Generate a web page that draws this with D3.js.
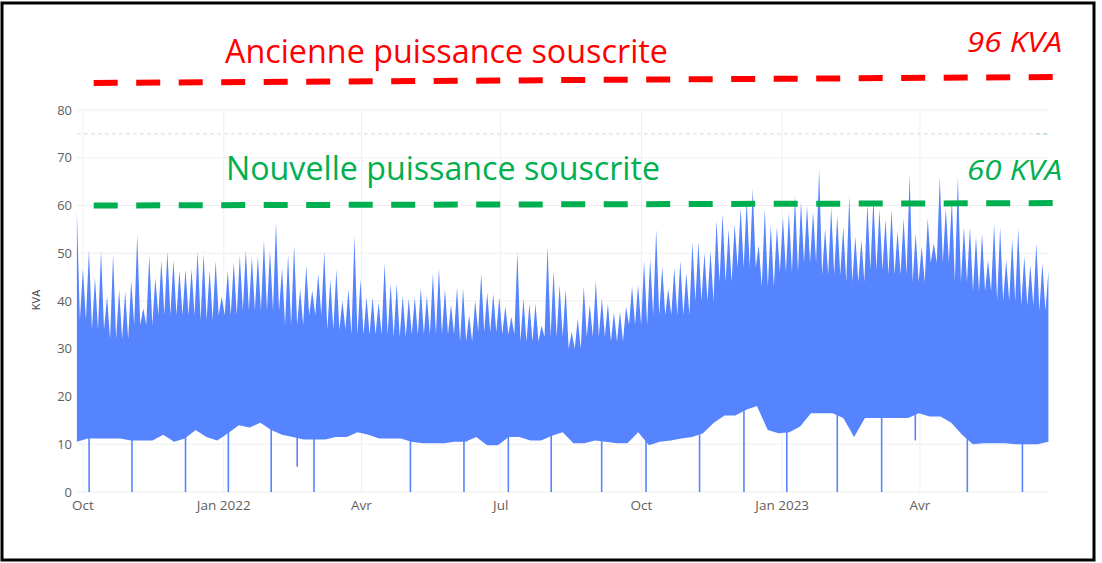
<!DOCTYPE html>
<html>
<head>
<meta charset="utf-8">
<script src="https://cdn.jsdelivr.net/npm/d3@7"></script>
<style>
  body { margin: 0; background: #fff; }
  text { font-family: "Open Sans", "Noto Sans", sans-serif; }
</style>
</head>
<body>
<div id="chart"></div>
<script>
var W = 1102, H = 563;

// period covered by the meter readings
var startDate = new Date(2021, 8, 27);
var endDate = new Date(2023, 5, 24);

// highest reading in each ~4 day slice (KVA)
var peakKva = [
  58.8, 46.7, 50.7, 45, 50.5, 41, 49.8, 42.4, 42, 44.3, 53.9, 38.5, 49.7, 44.8, 48.6, 50.4,
  48.6, 46.4, 46.6, 46.7, 50.4, 49.9, 46.5, 48.3, 40.9, 46.4, 48.1, 49.4, 50.7, 49.2, 49.3, 52.7,
  50.5, 56.5, 46.9, 49.7, 51.6, 42.5, 47.4, 42.2, 45.7, 50.4, 44.5, 46.6, 40.1, 42.5, 53.6, 44.5,
  40.8, 40.8, 39.7, 47.9, 43.6, 43.6, 41.1,
  40.5, 40.8, 42.7, 41.1, 45.8, 46.9, 42.5, 39.2, 42.9, 42.6, 37, 40.1, 45.8, 41.8, 41.5, 40.8,
  38.9, 36.7, 50.3, 40.5, 39.4, 39.4, 34.8, 51.5, 46.4, 43.4, 42.5, 33.5, 36.3, 43.1, 39.2, 44.2,
  40.6, 39.5, 37.6, 37.8, 38.8, 43.1, 43.4, 48.3, 48.8, 55, 47.2, 42.5, 46.9, 48.4, 45.8, 52.3,
  52.3, 50.1, 50.5, 56.9, 58.3,
  55, 56.1, 59.4, 61.1, 63.5, 51.7, 59.2, 55.9, 55.5, 57.6, 58.5, 62, 60.9, 59.9, 58.7, 67.6,
  55.2, 59.6, 57.8, 55.5, 62, 53.5, 52.8, 60.5, 61.5, 59.1, 57, 59.1, 54.6, 57.3, 66.5, 54.2,
  51.4, 57.3, 52.1, 66, 59.4, 61.3, 65.9, 55.5, 55.4, 53.5, 54.2, 48.6, 56.1, 55.4, 48.6, 52.9,
  55.2, 49.3, 47.6, 52.1, 47.9, 46.3
];

// level under which the trace is solid, every two weeks (KVA)
var denseTopKva = [
  36, 34, 32, 35, 37, 37, 36, 37, 38, 38, 35, 37, 34, 33, 33, 32.5,
  33, 33, 31.5, 33.5, 33, 31.5, 32.5, 30, 32.5, 31.5, 35, 37, 37, 40,
  44, 47, 43, 46, 48, 45.5, 44, 46.5, 45.5, 44, 48, 44, 42, 40, 39, 38
];

// lowest reading each week (KVA)
var baseKva = [
  10.5, 11.2, 11.2, 11.2, 11.2, 10.8, 10.8, 10.8, 12, 10.5, 11.2, 13, 11.5, 10.8, 12.3, 14,
  13.5, 14.5, 13, 12, 11.5, 11, 11, 11, 11.5, 11.5, 12.5, 12, 11.2, 11.2, 11.2, 10.5,
  10.2, 10.2, 10.2, 10.5, 10.5, 11.5, 9.8, 9.8, 11.5, 11.5, 10.8, 10.8, 11.8, 12.5, 10.2, 10.2,
  10.8, 10.5, 10.2, 10.2, 12.5, 9.8, 10.5, 10.8, 11.2, 11.5, 12.3, 14.5, 16, 16, 17.2, 18,
  13, 12.3, 12.5, 13.7, 16.5, 16.5, 16.5, 15.5, 11.5, 15.5, 15.5, 15.5, 15.5, 15.5, 16.5, 15.8,
  15.8, 14.5, 12, 10, 10.2, 10.2, 10.2, 10, 10, 10, 10.5
];

// short outages (reading falls to 0)
var outageDates = [
  "2021-10-05", "2021-11-02", "2021-12-07", "2022-01-04", "2022-02-01", "2022-03-01",
  "2022-05-03", "2022-06-07", "2022-07-06", "2022-08-03", "2022-09-05", "2022-10-04",
  "2022-11-08", "2022-12-07", "2023-01-04", "2023-02-06", "2023-03-07", "2023-05-02",
  "2023-06-07"
];
// isolated low readings
var dipDates = ["2022-02-18", "2023-03-29"];
var dipKva = [5.3, 10.8];

// subscribed power lines drawn over the chart
var oldPowerDates = ["2021-10-08", "2023-06-28"];
var oldPowerKva = [85.65, 86.9];
var newPowerDates = ["2021-10-08", "2023-06-28"];
var newPowerKva = [60.0, 60.5];

var yTicks = [0, 10, 20, 30, 40, 50, 60, 70, 80];
var xTickDates = ["2021-10-01", "2022-01-01", "2022-04-01", "2022-07-01", "2022-10-01", "2023-01-01", "2023-04-01"];
var xTickLabels = ["Oct", "Jan 2022", "Avr", "Jul", "Oct", "Jan 2023", "Avr"];

var parse = d3.timeParse("%Y-%m-%d");
var blue = "#5684ff";

var svg = d3.select("#chart").append("svg")
  .attr("width", W)
  .attr("height", H);

var x = d3.scaleTime()
  .domain([new Date(2021, 9, 1), new Date(2023, 0, 1)])
  .range([83, 782.2]);
var y = d3.scaleLinear().domain([0, 80]).range([492, 110]);

var plotLeft = x(startDate), plotRight = x(endDate);

// evenly spaced sampling grid over the recording period
function grid(n) {
  var s = d3.scaleLinear().domain([0, n - 1]).range([startDate.getTime(), endDate.getTime()]);
  return d3.range(n).map(function (i) { return new Date(s(i)); });
}
var peakDates = grid(peakKva.length);
var denseDates = grid(denseTopKva.length);
var baseDates = grid(baseKva.length);
var near = d3.bisector(function (d) { return d; }).center;

// gridlines
svg.append("g").selectAll("line")
  .data(yTicks)
  .enter().append("line")
  .attr("x1", plotLeft).attr("x2", plotRight)
  .attr("y1", function (d) { return y(d); })
  .attr("y2", function (d) { return y(d); })
  .attr("stroke", "#eeeeee");
svg.append("g").selectAll("line")
  .data(xTickDates)
  .enter().append("line")
  .attr("x1", function (d) { return x(parse(d)); })
  .attr("x2", function (d) { return x(parse(d)); })
  .attr("y1", y(80)).attr("y2", y(0))
  .attr("stroke", "#f0f0f0");

// reference line at 75
svg.append("line")
  .attr("x1", plotLeft).attr("x2", plotRight)
  .attr("y1", y(75)).attr("y2", y(75))
  .attr("stroke", "#d9d9d9")
  .attr("stroke-dasharray", "4,3");
svg.append("line")
  .attr("x1", plotRight - 12).attr("x2", plotRight)
  .attr("y1", y(75)).attr("y2", y(75))
  .attr("stroke", "#9ed9c9")
  .attr("stroke-dasharray", "4,3");

// trace: peaks joined through the dense level, closed along the weekly minimum
var topPts = [];
peakDates.forEach(function (d, i) {
  topPts.push([x(d), y(peakKva[i])]);
  if (i < peakDates.length - 1) {
    var mx = (x(d) + x(peakDates[i + 1])) / 2;
    topPts.push([mx, y(denseTopKva[near(denseDates, x.invert(mx))])]);
  }
});
var botPts = baseDates.map(function (d, i) { return [x(d), y(baseKva[i])]; }).reverse();
svg.append("path")
  .attr("d", d3.line()(topPts.concat(botPts)) + "Z")
  .attr("fill", blue);

// outages and low readings
svg.append("g").selectAll("line")
  .data(outageDates)
  .enter().append("line")
  .attr("x1", function (d) { return x(parse(d)); })
  .attr("x2", function (d) { return x(parse(d)); })
  .attr("y1", function (d) { return y(baseKva[near(baseDates, parse(d))] + 1); })
  .attr("y2", y(0))
  .attr("stroke", blue)
  .attr("stroke-width", 1.6);
svg.append("g").selectAll("line")
  .data(dipDates)
  .enter().append("line")
  .attr("x1", function (d) { return x(parse(d)); })
  .attr("x2", function (d) { return x(parse(d)); })
  .attr("y1", function (d) { return y(baseKva[near(baseDates, parse(d))] + 1); })
  .attr("y2", function (d, i) { return y(dipKva[i]); })
  .attr("stroke", blue)
  .attr("stroke-width", 1.6);

// axis labels
svg.append("g").selectAll("text")
  .data(yTicks)
  .enter().append("text")
  .attr("x", 72)
  .attr("y", function (d) { return y(d) + 4.5; })
  .attr("text-anchor", "end")
  .attr("font-size", 13)
  .attr("fill", "#605e5c")
  .text(function (d) { return d; });
svg.append("g").selectAll("text")
  .data(xTickDates)
  .enter().append("text")
  .attr("x", function (d) { return x(parse(d)); })
  .attr("y", 510)
  .attr("text-anchor", "middle")
  .attr("font-size", 13.5)
  .attr("fill", "#605e5c")
  .text(function (d, i) { return xTickLabels[i]; });
svg.append("text")
  .attr("transform", "translate(40,300) rotate(-90)")
  .attr("text-anchor", "middle")
  .attr("font-size", 11)
  .attr("fill", "#444")
  .text("KVA");

// subscribed power lines
var powerLine = d3.line()
  .x(function (d) { return x(parse(d[0])); })
  .y(function (d) { return y(d[1]); });
svg.append("path")
  .attr("d", powerLine(d3.zip(oldPowerDates, oldPowerKva)))
  .attr("fill", "none")
  .attr("stroke", "#ff0000")
  .attr("stroke-width", 6)
  .attr("stroke-dasharray", "24,18.5");
svg.append("path")
  .attr("d", powerLine(d3.zip(newPowerDates, newPowerKva)))
  .attr("fill", "none")
  .attr("stroke", "#00b050")
  .attr("stroke-width", 6)
  .attr("stroke-dasharray", "24,18.5");

// annotations
svg.append("text")
  .attr("x", 225).attr("y", 63)
  .attr("font-size", 32)
  .attr("textLength", 443).attr("lengthAdjust", "spacingAndGlyphs")
  .attr("fill", "#ff0000")
  .text("Ancienne puissance souscrite");
svg.append("text")
  .attr("x", 226).attr("y", 180)
  .attr("font-size", 32)
  .attr("textLength", 434).attr("lengthAdjust", "spacingAndGlyphs")
  .attr("fill", "#00b050")
  .text("Nouvelle puissance souscrite");
svg.append("text")
  .attr("x", 967).attr("y", 52)
  .attr("font-size", 27).attr("font-style", "italic")
  .attr("textLength", 95).attr("lengthAdjust", "spacingAndGlyphs")
  .attr("fill", "#ff0000")
  .text("96 KVA");
svg.append("text")
  .attr("x", 967).attr("y", 180)
  .attr("font-size", 27).attr("font-style", "italic")
  .attr("textLength", 95).attr("lengthAdjust", "spacingAndGlyphs")
  .attr("fill", "#00b050")
  .text("60 KVA");

// frame
svg.append("rect")
  .attr("x", 2).attr("y", 3)
  .attr("width", 1092).attr("height", 557)
  .attr("fill", "none")
  .attr("stroke", "#000")
  .attr("stroke-width", 3);
</script>
</body>
</html>
